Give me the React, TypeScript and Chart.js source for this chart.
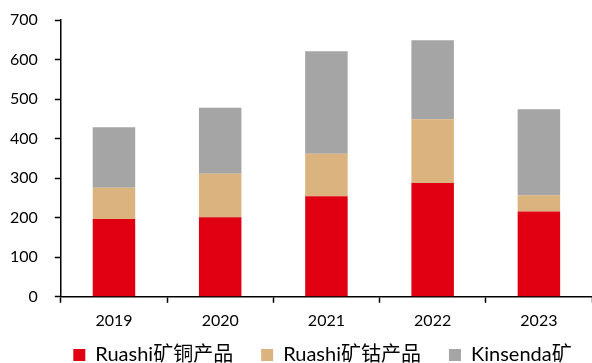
import React, { useEffect, useRef } from "react";
import { Chart, registerables } from "chart.js";

Chart.register(...registerables);

const categories = ["2019", "2020", "2021", "2022", "2023"];
const copperValues = [197, 201, 254, 288, 216];
const cobaltValues = [79, 110, 108, 161, 41];
const kinsendaValues = [153, 167, 259, 200, 217];
const seriesNames = ["Ruashi矿铜产品", "Ruashi矿钴产品", "Kinsenda矿"];
const yTicks = [0, 100, 200, 300, 400, 500, 600, 700];

const FONT = "Lato, 'Noto Sans CJK SC', sans-serif";
const LEGEND_SIZE = 20;
const LEGEND_PAD = 28;

const legendShift = {
  id: "legendShift",
  afterLayout(chart: any) {
    const lg = chart.legend;
    if (!lg) return;
    const h = lg.bottom - lg.top;
    const top = 355 - LEGEND_PAD - LEGEND_SIZE / 2;
    lg.top = top;
    lg.bottom = top + h;
    lg.left += 30;
    lg.right += 30;
  },
};

export default function App() {
  const ref = useRef<HTMLCanvasElement | null>(null);

  useEffect(() => {
    document.body.style.margin = "0";
    const canvas = ref.current;
    if (!canvas) return;
    const chart = new Chart(canvas, {
      type: "bar",
      data: {
        labels: categories,
        datasets: [
          { label: seriesNames[0], data: copperValues, backgroundColor: "#E00012" },
          { label: seriesNames[1], data: cobaltValues, backgroundColor: "#DBB37E" },
          { label: seriesNames[2], data: kinsendaValues, backgroundColor: "#A5A5A5" },
        ],
      },
      plugins: [legendShift],
      options: {
        animation: false,
        responsive: true,
        maintainAspectRatio: false,
        datasets: { bar: { categoryPercentage: 0.4, barPercentage: 1 } },
        layout: { padding: { left: -7, right: 0, top: 20, bottom: -33 } },
        plugins: {
          tooltip: { enabled: false },
          legend: {
            position: "bottom",
            labels: {
              color: "#000",
              font: { family: FONT, size: LEGEND_SIZE },
              boxWidth: 12,
              boxHeight: 12,
              padding: LEGEND_PAD,
            },
          },
        },
        scales: {
          x: {
            stacked: true,
            grid: {
              display: true,
              drawOnChartArea: false,
              drawTicks: true,
              tickLength: 6,
              tickColor: "#000",
              tickWidth: 1.5,
            },
            border: { display: true, color: "#000", width: 1.5 },
            ticks: {
              color: "#000",
              padding: 8,
              font: { family: FONT, size: 16 },
            },
          },
          y: {
            stacked: true,
            min: 0,
            max: 700,
            afterBuildTicks: (scale: any) => {
              scale.ticks = yTicks.map((v) => ({ value: v }));
            },
            afterFit: (scale: any) => {
              scale.paddingTop = 0;
              scale.paddingBottom = 0;
            },
            grid: {
              display: true,
              drawOnChartArea: false,
              drawTicks: true,
              tickLength: 6,
              tickColor: "#000",
              tickWidth: 1.5,
            },
            border: { display: true, color: "#000", width: 1.5 },
            ticks: {
              color: "#000",
              padding: 17,
              font: { family: FONT, size: 16 },
            },
          },
        },
      },
    });
    return () => chart.destroy();
  }, []);

  return (
    <div style={{ width: 592, height: 363, position: "relative" }}>
      <canvas ref={ref} />
    </div>
  );
}
